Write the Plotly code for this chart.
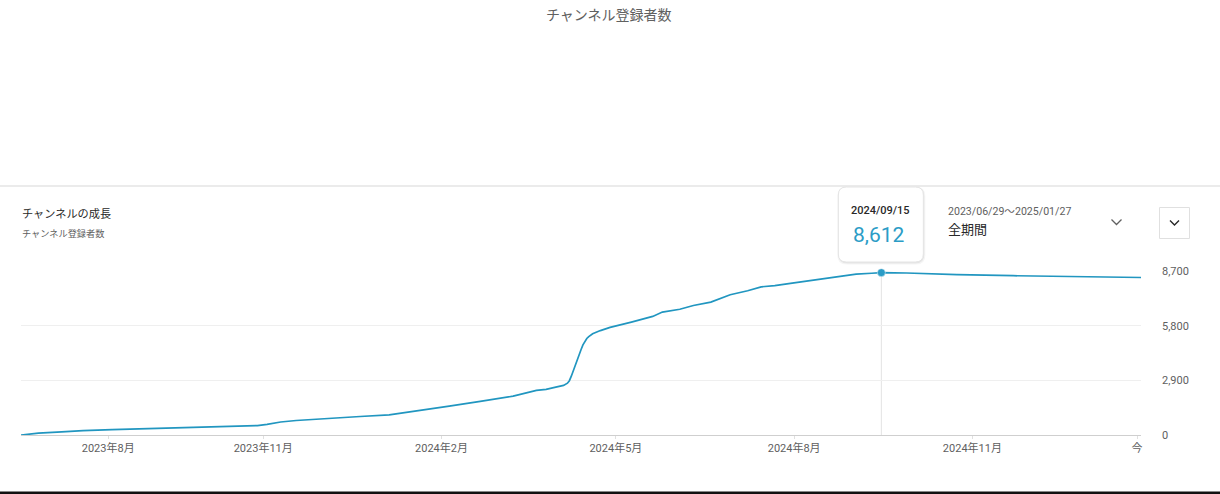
import plotly.graph_objects as go

# ---------------- data ----------------
dates = [
    "2023-06-29", "2023-07-03", "2023-07-08", "2023-07-20", "2023-07-31",
    "2023-08-15", "2023-08-31", "2023-09-15", "2023-09-29", "2023-10-15",
    "2023-10-29", "2023-11-03", "2023-11-10", "2023-11-18", "2023-11-30",
    "2023-12-10", "2023-12-21", "2024-01-05", "2024-01-13", "2024-01-21",
    "2024-02-05", "2024-02-21", "2024-03-09", "2024-03-21", "2024-03-26",
    "2024-03-31", "2024-04-04", "2024-04-06", "2024-04-07", "2024-04-08",
    "2024-04-09", "2024-04-10", "2024-04-11", "2024-04-12", "2024-04-13",
    "2024-04-14", "2024-04-15", "2024-04-16", "2024-04-17", "2024-04-19",
    "2024-04-23", "2024-04-28", "2024-05-09", "2024-05-20", "2024-05-25",
    "2024-06-03", "2024-06-10", "2024-06-19", "2024-06-29", "2024-07-08",
    "2024-07-15", "2024-07-22", "2024-07-31", "2024-08-12", "2024-08-24",
    "2024-09-02", "2024-09-10", "2024-09-15", "2024-09-28", "2024-10-24",
    "2024-11-22", "2024-12-15", "2025-01-08", "2025-01-27",
]
subscribers = [
    0, 50, 95, 170, 237,
    280, 327, 350, 380, 440,
    500, 560, 690, 770, 860,
    920, 982, 1072, 1180, 1301,
    1529, 1779, 2060, 2363, 2420,
    2540, 2630, 2750, 2880, 3120,
    3420, 3720, 4000, 4250, 4520,
    4780, 4990, 5120, 5220, 5370,
    5540, 5710, 5990, 6290, 6520,
    6670, 6870, 7050, 7440, 7650,
    7860, 7920, 8060, 8220, 8410,
    8535, 8580, 8612, 8595, 8505,
    8450, 8410, 8360, 8355,
]

x_tick_dates = ["2023-08-13", "2023-11-01", "2024-02-01", "2024-05-01",
                "2024-08-01", "2024-11-01", "2025-01-25"]
x_tick_labels = ["2023年8月", "2023年11月", "2024年2月", "2024年5月",
                 "2024年8月", "2024年11月", "今"]
y_tick_values = [0, 2900, 5800, 8700]
y_tick_labels = ["0", "2,900", "5,800", "8,700"]

range_start = "2023-06-29"
range_end = "2025-01-27"
highlight_date = "2024-09-15"
highlight_value = subscribers[dates.index(highlight_date)]

chart_title = "チャンネル登録者数"
card_title = "チャンネルの成長"
card_subtitle = "チャンネル登録者数"
period_text = "2023/06/29～2025/01/27"
period_label = "全期間"

# ---------------- style ----------------
LINE = "#2196c0"
W, H = 1220, 494
ML, MR, MT, MB = 21, 79, 271, 59
PW, PH = W - ML - MR, H - MT - MB
FONT = "Roboto, 'Noto Sans CJK JP', sans-serif"


def px_x(p):
    return (p - ML) / PW


def px_y(p):
    return (H - MB - p) / PH


fig = go.Figure()

fig.add_trace(go.Scatter(
    x=dates, y=subscribers, mode="lines",
    line=dict(color=LINE, width=1.7),
    hoverinfo="skip",
))
fig.add_trace(go.Scatter(
    x=[highlight_date], y=[highlight_value], mode="markers",
    marker=dict(color="#2b9cc6", size=8, line=dict(color="white", width=0.5)),
    hoverinfo="skip", cliponaxis=False,
))

shapes = []
# hover guide line
shapes.append(dict(type="line", xref="x", yref="y", x0=highlight_date, x1=highlight_date,
                   y0=0, y1=highlight_value, line=dict(color="#e3e3e3", width=1), layer="below"))
# header separator
shapes.append(dict(type="line", xref="paper", yref="paper", x0=px_x(0), x1=px_x(W),
                   y0=px_y(186), y1=px_y(186), line=dict(color="#ebebeb", width=2)))


def rounded_path(x0, x1, y0, y1, r, yconv):
    Y = yconv
    return (f"M {x0 + r},{Y(y0)} L {x1 - r},{Y(y0)} Q {x1},{Y(y0)} {x1},{Y(y0 + r)} "
            f"L {x1},{Y(y1 - r)} Q {x1},{Y(y1)} {x1 - r},{Y(y1)} "
            f"L {x0 + r},{Y(y1)} Q {x0},{Y(y1)} {x0},{Y(y1 - r)} "
            f"L {x0},{Y(y0 + r)} Q {x0},{Y(y0)} {x0 + r},{Y(y0)} Z")


# tooltip shadow + card
for dx, dy, col in [(2, 2, "rgba(0,0,0,0.04)"), (1, 1, "rgba(0,0,0,0.06)")]:
    shapes.append(dict(type="path", xref="x", xsizemode="pixel", xanchor=highlight_date,
                       yref="paper",
                       path=rounded_path(-43 - dx + 1, 42 + dx, 187, 262.5 + dy, 9, px_y),
                       fillcolor=col, line=dict(width=0)))
shapes.append(dict(type="path", xref="x", xsizemode="pixel", xanchor=highlight_date,
                   yref="paper", path=rounded_path(-43, 42, 187, 262, 8, px_y),
                   fillcolor="white", line=dict(color="#e4e4e4", width=1)))

# dropdown chevron
shapes.append(dict(type="path", xref="paper", yref="paper",
                   path=f"M {px_x(1111.5)},{px_y(219.5)} L {px_x(1116.5)},{px_y(224.5)} L {px_x(1121.5)},{px_y(219.5)}",
                   line=dict(color="#606060", width=1.3)))
# button box
shapes.append(dict(type="rect", xref="paper", yref="paper",
                   x0=px_x(1159.5), x1=px_x(1189.5), y0=px_y(238.5), y1=px_y(207.5),
                   line=dict(color="#e0e0e0", width=1), fillcolor="white"))
shapes.append(dict(type="path", xref="paper", yref="paper",
                   path=f"M {px_x(1170)},{px_y(220.5)} L {px_x(1174.5)},{px_y(225)} L {px_x(1179)},{px_y(220.5)}",
                   line=dict(color="#282828", width=1.4)))
# bottom dark border
shapes.append(dict(type="rect", xref="paper", yref="paper",
                   x0=px_x(0), x1=px_x(W), y0=px_y(494), y1=px_y(491.5),
                   line=dict(width=0), fillcolor="#111111"))

annotations = [
    dict(text=chart_title, xref="paper", yref="paper", x=px_x(609), y=px_y(15),
         xanchor="center", yanchor="middle", showarrow=False,
         font=dict(family=FONT, size=14, color="#606060")),
    dict(text=card_title, xref="paper", yref="paper", x=px_x(20), y=px_y(214),
         xanchor="left", yanchor="middle", showarrow=False,
         font=dict(family=FONT, size=11.2, color="#282828")),
    dict(text=card_subtitle, xref="paper", yref="paper", x=px_x(20), y=px_y(233),
         xanchor="left", yanchor="middle", showarrow=False,
         font=dict(family=FONT, size=9.2, color="#606060")),
    dict(text=highlight_date.replace("-", "/"), xref="x", yref="paper", x=highlight_date,
         y=px_y(210), xanchor="center", yanchor="middle", showarrow=False, xshift=-1,
         font=dict(family=FONT, size=11, color="#282828", weight=500)),
    dict(text=f"{highlight_value:,}", xref="x", yref="paper", x=highlight_date,
         y=px_y(235), xanchor="center", yanchor="middle", showarrow=False, xshift=-2,
         font=dict(family=FONT, size=21, color="#2b9cc6")),
    dict(text=period_text, xref="paper", yref="paper", x=px_x(946), y=px_y(211),
         xanchor="left", yanchor="middle", showarrow=False,
         font=dict(family=FONT, size=10.6, color="#606060")),
    dict(text=period_label, xref="paper", yref="paper", x=px_x(946), y=px_y(229),
         xanchor="left", yanchor="middle", showarrow=False,
         font=dict(family=FONT, size=13, color="#282828")),
]

fig.update_layout(
    width=W, height=H,
    margin=dict(l=ML, r=MR, t=MT, b=MB),
    paper_bgcolor="white", plot_bgcolor="white",
    showlegend=False, hovermode=False,
    font=dict(family=FONT, color="#606060"),
    shapes=shapes, annotations=annotations,
    xaxis=dict(
        type="date", range=[range_start, range_end],
        tickmode="array", tickvals=x_tick_dates, ticktext=x_tick_labels,
        showgrid=False, zeroline=False,
        showline=True, linecolor="#cfcfcf", linewidth=1.3,
        ticks="outside", ticklen=3, tickcolor="#e0e0e0",
        tickfont=dict(family=FONT, size=11, color="#606060"),
    ),
    yaxis=dict(
        side="right", range=[0, 8700],
        tickmode="array", tickvals=y_tick_values, ticktext=y_tick_labels,
        showgrid=True, gridcolor="#efefef", gridwidth=1,
        zeroline=False, showline=False, ticks="",
        ticklabelstandoff=20,
        tickfont=dict(family=FONT, size=11, color="#606060"),
    ),
)

fig.write_html("out.html")
